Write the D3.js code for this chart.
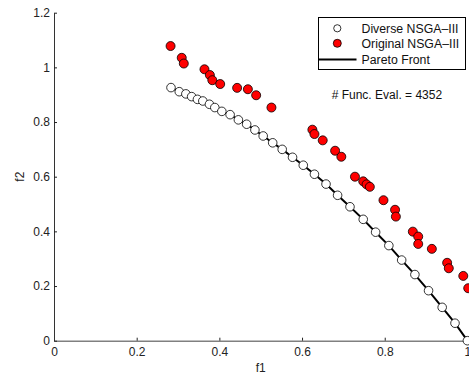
<!DOCTYPE html>
<html>
<head>
<meta charset="utf-8">
<script src="https://cdn.jsdelivr.net/npm/d3@7"></script>
<style>
  body { margin: 0; background: #fff; }
  svg { display: block; font-family: "Liberation Sans", Arial, Helvetica, sans-serif; }
</style>
</head>
<body>
<div id="chart"></div>
<script>

  // Diverse NSGA-III (white circles)
  var diverseF1 = [0.283, 0.303, 0.319, 0.333, 0.347, 0.360, 0.376, 0.389, 0.406, 0.426,
                   0.446, 0.466, 0.486, 0.506, 0.529, 0.552, 0.577, 0.603, 0.630, 0.658,
                   0.686, 0.716, 0.748, 0.778, 0.810, 0.841, 0.873, 0.906, 0.939, 0.970, 1.000];
  var diverseF2 = [0.926, 0.911, 0.903, 0.893, 0.883, 0.877, 0.865, 0.853, 0.839, 0.827,
                   0.808, 0.792, 0.771, 0.749, 0.724, 0.700, 0.671, 0.642, 0.609, 0.573,
                   0.532, 0.490, 0.444, 0.397, 0.348, 0.295, 0.242, 0.183, 0.122, 0.064, 0.000];

  // Original NSGA-III (red circles)
  var originalF1 = [0.282, 0.309, 0.314, 0.364, 0.377, 0.383, 0.402, 0.443, 0.469, 0.489,
                    0.526, 0.625, 0.630, 0.650, 0.680, 0.695, 0.728, 0.748, 0.756, 0.764,
                    0.797, 0.825, 0.827, 0.868, 0.881, 0.881, 0.914, 0.951, 0.955, 0.990, 1.002];
  var originalF2 = [1.078, 1.035, 1.014, 0.993, 0.972, 0.953, 0.939, 0.925, 0.920, 0.898,
                    0.853, 0.772, 0.756, 0.733, 0.695, 0.673, 0.600, 0.583, 0.572, 0.563,
                    0.514, 0.479, 0.454, 0.399, 0.381, 0.354, 0.336, 0.285, 0.265, 0.237, 0.192];

  // Pareto front, traced along the white circles
  var paretoF1 = diverseF1;
  var paretoF2 = diverseF2;

  var xTicks = [0, 0.2, 0.4, 0.6, 0.8, 1];
  var yTicks = [0, 0.2, 0.4, 0.6, 0.8, 1, 1.2];
  var legendLabels = ["Diverse NSGA\u2013III", "Original NSGA\u2013III", "Pareto Front"];
  var evalText = "# Func. Eval. = 4352";

  var W = 469, H = 375;
  var margin = {top: 12.7, right: 1.6, bottom: 34.3, left: 54};

  var x = d3.scaleLinear().domain([0, 1]).range([margin.left, W - margin.right]);
  var y = d3.scaleLinear().domain([0, 1.2]).range([H - margin.bottom, margin.top]);

  var svg = d3.select("#chart").append("svg")
      .attr("width", W)
      .attr("height", H);

  // axes, MATLAB style with ticks pointing in
  var xAxis = svg.append("g")
      .attr("transform", "translate(0," + y(0) + ")")
      .call(d3.axisBottom(x).tickValues(xTicks).tickFormat(d3.format("")).tickSizeInner(-3).tickSizeOuter(0).tickPadding(6));
  xAxis.select(".domain").attr("stroke", "#808080").attr("stroke-width", 1.6);
  xAxis.selectAll(".tick line").attr("stroke", "#222");
  xAxis.selectAll("text").attr("font-size", 12).attr("fill", "#222").attr("dy", "0.75em");

  var yAxis = svg.append("g")
      .attr("transform", "translate(" + x(0) + ",0)")
      .call(d3.axisLeft(y).tickValues(yTicks).tickFormat(d3.format("")).tickSizeInner(-3).tickSizeOuter(0).tickPadding(4));
  yAxis.select(".domain").attr("stroke", "#333").attr("stroke-width", 1);
  yAxis.selectAll(".tick line").attr("stroke", "#222");
  yAxis.selectAll("text").attr("font-size", 12).attr("fill", "#222");

  svg.append("text")
      .attr("x", x(0.5)).attr("y", 372)
      .attr("text-anchor", "middle").attr("font-size", 12).attr("fill", "#222")
      .text("f1");
  svg.append("text")
      .attr("transform", "translate(24," + y(0.6) + ") rotate(-90)")
      .attr("text-anchor", "middle").attr("font-size", 12).attr("fill", "#222")
      .text("f2");

  // Pareto front line
  var line = d3.line().x(d => x(d[0])).y(d => y(d[1]));
  svg.append("path")
      .datum(d3.zip(paretoF1, paretoF2))
      .attr("d", line)
      .attr("fill", "none")
      .attr("stroke", "#000")
      .attr("stroke-width", 2);

  svg.append("g").selectAll("circle")
      .data(d3.zip(diverseF1, diverseF2))
    .enter().append("circle")
      .attr("cx", d => x(d[0]))
      .attr("cy", d => y(d[1]))
      .attr("r", 4.3)
      .attr("fill", "#fff")
      .attr("stroke", "#000")
      .attr("stroke-width", 0.8);

  svg.append("g").selectAll("circle")
      .data(d3.zip(originalF1, originalF2))
    .enter().append("circle")
      .attr("cx", d => x(d[0]))
      .attr("cy", d => y(d[1]))
      .attr("r", 4.5)
      .attr("fill", "#f00")
      .attr("stroke", "#000")
      .attr("stroke-width", 0.8);

  // legend
  var lg = svg.append("g");
  lg.append("rect")
      .attr("x", 318.5).attr("y", 17.5)
      .attr("width", 147).attr("height", 52)
      .attr("fill", "#fff").attr("stroke", "#000").attr("stroke-width", 1);

  var rows = [28.3, 43.3, 59.5];
  lg.append("circle").attr("cx", 337.3).attr("cy", rows[0]).attr("r", 3.6)
      .attr("fill", "#fff").attr("stroke", "#000").attr("stroke-width", 0.8);
  lg.append("circle").attr("cx", 337.3).attr("cy", rows[1]).attr("r", 4)
      .attr("fill", "#f00").attr("stroke", "#000").attr("stroke-width", 0.8);
  lg.append("line").attr("x1", 318.5).attr("x2", 356.5).attr("y1", rows[2]).attr("y2", rows[2])
      .attr("stroke", "#000").attr("stroke-width", 2);

  lg.selectAll("text.lab")
      .data(legendLabels)
    .enter().append("text")
      .attr("class", "lab")
      .attr("x", 361.5)
      .attr("y", (d, i) => rows[i])
      .attr("dy", "0.35em")
      .attr("font-size", 12.3)
      .attr("fill", "#111")
      .text(d => d);

  svg.append("text")
      .attr("x", 331.7).attr("y", 99)
      .attr("font-size", 12).attr("fill", "#111")
      .text(evalText);

</script>
</body>
</html>
